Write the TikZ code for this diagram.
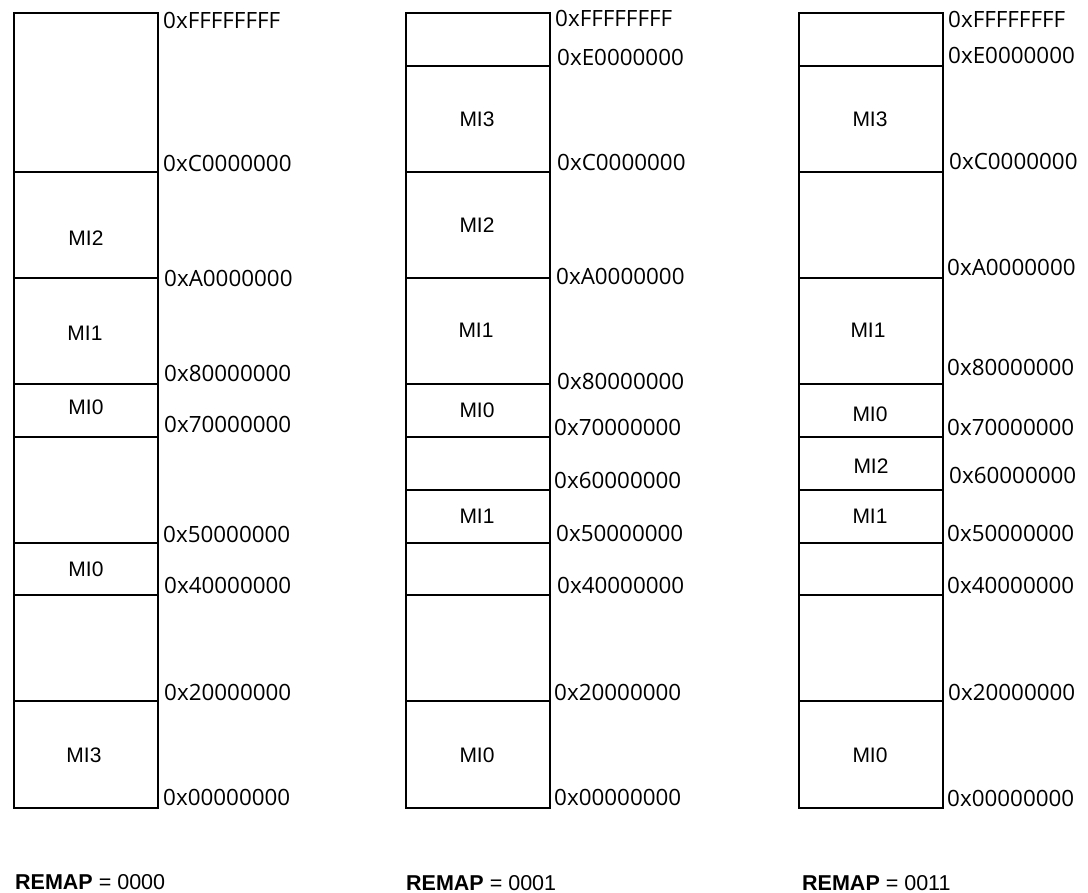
\documentclass[tikz,border=0pt]{standalone}
\usepackage{fontspec}
\newfontfamily\hexfont{Open Sans}
\newfontfamily\arialfont{Liberation Sans}
\tikzset{
  memcol/.style={draw=black, line width=1.7pt, minimum width=144pt, minimum height=795pt, anchor=north west, inner sep=0pt},
  sepline/.style={draw=black, line width=1.5pt},
  addr/.style={anchor=base west, inner sep=0pt, font=\hexfont\fontsize{22.4}{26}\selectfont},
  mi/.style={anchor=base, inner sep=0pt, font=\arialfont\fontsize{21}{25}\selectfont},
  remap/.style={anchor=base west, inner sep=0pt, font=\arialfont\fontsize{21.5}{25}\selectfont},
}
\begin{document}
\begin{tikzpicture}[x=1pt,y=-1pt]
\useasboundingbox (0,0) rectangle (1088,893);
% columns
\node[memcol] (col1) at (13,12) {};
\node[memcol] (col2) at (405,12) {};
\node[memcol] (col3) at (798,12) {};
% separators column 1
\foreach \yy in {172,278,384,437,543,595,701}
  \draw[sepline] (13,\yy) -- (157,\yy);
% separators column 2
\foreach \yy in {66,172,278,384,437,490,543,595,701}
  \draw[sepline] (405,\yy) -- (549,\yy);
% separators column 3
\foreach \yy in {66,172,278,384,437,490,543,595,701}
  \draw[sepline] (798,\yy) -- (942,\yy);

% addresses column 1
\node[addr] (a1ff) at (163,29) {0xFFFFFFFF};
\node[addr] (a1c0) at (163,172) {0xC0000000};
\node[addr] (a1a0) at (164,287) {0xA0000000};
\node[addr] (a180) at (164,382) {0x80000000};
\node[addr] (a170) at (164,433) {0x70000000};
\node[addr] (a150) at (163,542) {0x50000000};
\node[addr] (a140) at (164,593) {0x40000000};
\node[addr] (a120) at (164,700) {0x20000000};
\node[addr] (a100) at (163,805) {0x00000000};
% addresses column 2
\node[addr] (a2ff) at (555,27) {0xFFFFFFFF};
\node[addr] (a2e0) at (557,66) {0xE0000000};
\node[addr] (a2c0) at (557,171) {0xC0000000};
\node[addr] (a2a0) at (556,285) {0xA0000000};
\node[addr] (a280) at (557,390) {0x80000000};
\node[addr] (a270) at (554,436) {0x70000000};
\node[addr] (a260) at (554,488) {0x60000000};
\node[addr] (a250) at (556,541) {0x50000000};
\node[addr] (a240) at (557,593) {0x40000000};
\node[addr] (a220) at (554,700) {0x20000000};
\node[addr] (a200) at (554,805) {0x00000000};
% addresses column 3
\node[addr] (a3ff) at (948,28) {0xFFFFFFFF};
\node[addr] (a3e0) at (948,64) {0xE0000000};
\node[addr] (a3c0) at (949,170) {0xC0000000};
\node[addr] (a3a0) at (947,276) {0xA0000000};
\node[addr] (a380) at (947,376) {0x80000000};
\node[addr] (a370) at (947,436) {0x70000000};
\node[addr] (a360) at (949,483) {0x60000000};
\node[addr] (a350) at (947,541) {0x50000000};
\node[addr] (a340) at (947,593) {0x40000000};
\node[addr] (a320) at (948,700) {0x20000000};
\node[addr] (a300) at (947,806) {0x00000000};

% region labels column 1
\node[mi] (m1a) at (86,246) {MI2};
\node[mi] (m1b) at (85,341) {MI1};
\node[mi] (m1c) at (86,415) {MI0};
\node[mi] (m1d) at (86,576) {MI0};
\node[mi] (m1e) at (84,762) {MI3};
% region labels column 2
\node[mi] (m2a) at (477,127) {MI3};
\node[mi] (m2b) at (477,233) {MI2};
\node[mi] (m2c) at (476,338) {MI1};
\node[mi] (m2d) at (477,418) {MI0};
\node[mi] (m2e) at (477,523) {MI1};
\node[mi] (m2f) at (477,762) {MI0};
% region labels column 3
\node[mi] (m3a) at (870,127) {MI3};
\node[mi] (m3b) at (868,338) {MI1};
\node[mi] (m3c) at (870,422) {MI0};
\node[mi] (m3d) at (871,473) {MI2};
\node[mi] (m3e) at (870,523) {MI1};
\node[mi] (m3f) at (870,762) {MI0};

% remap captions
\node[remap] (r1) at (15,889) {\textbf{REMAP} = 0000};
\node[remap] (r2) at (406,890) {\textbf{REMAP} = 0001};
\node[remap] (r3) at (802,890) {\textbf{REMAP} = 0011};
\end{tikzpicture}
\end{document}
